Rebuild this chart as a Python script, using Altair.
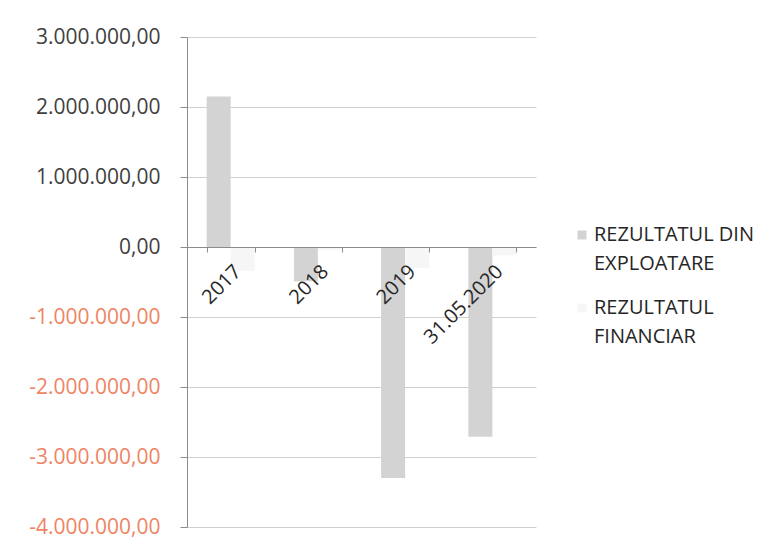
import altair as alt
import pandas as pd

categories = ["2017", "2018", "2019", "31.05.2020"]
series_names = ["REZULTATUL DIN EXPLOATARE", "REZULTATUL FINANCIAR"]
legend_lines = [["REZULTATUL DIN", "EXPLOATARE"], ["REZULTATUL", "FINANCIAR"]]
exploatare = [2150000, -490000, -3300000, -2710000]
financiar = [-340000, -40000, -300000, -120000]
y_ticks = [-4000000, -3000000, -2000000, -1000000, 0, 1000000, 2000000, 3000000]
colors = ["#d3d3d3", "#f6f6f6"]

rows = []
for c, a, b in zip(categories, exploatare, financiar):
    rows.append({"cat": c, "series": series_names[0], "value": a})
    rows.append({"cat": c, "series": series_names[1], "value": b})
df = pd.DataFrame(rows)

leg_df = pd.DataFrame({"series": series_names, "lines": legend_lines, "idx": [0, 1]})

FONT = "Open Sans"
fmt = ("replace(replace(replace(replace(replace(format(datum.value, ',.2f'), '.', '#'), ',', '.'), ',', '.'), '#', ','), '\u2212', '-')")

W, H = 349, 490
zero_off = -int(round(H * 4 / 7))
color_scale = alt.Scale(domain=series_names, range=colors)

bars = alt.Chart(df).mark_bar().encode(
    x=alt.X("cat:N", sort=categories, title=None,
            scale=alt.Scale(paddingInner=0.45, paddingOuter=0.225),
            axis=alt.Axis(offset=zero_off, labelAngle=-45, labelFont=FONT, labelFontSize=20,
                          labelColor="#262626", domainColor="#8c8c8c", domainWidth=1.2,
                          tickBand="extent", tickSize=5, tickColor="#8c8c8c",
                          labelPadding=9, zindex=1, grid=False)),
    xOffset=alt.XOffset("series:N", sort=series_names),
    y=alt.Y("value:Q", title=None,
            scale=alt.Scale(domain=[-4000000, 3000000], nice=False, zero=False),
            axis=alt.Axis(values=y_ticks, labelExpr=fmt, labelFont=FONT, labelFontSize=21,
                          labelColor={"condition": {"test": "datum.value < 0", "value": "#EE8464"}, "value": "#404040"},
                          domainColor="#8c8c8c", tickColor="#8c8c8c", tickSize=7, labelPadding=20,
                          gridColor="#cfcfcf", grid=True)),
    color=alt.Color("series:N", scale=color_scale, legend=None),
)

leg_base = alt.Chart(leg_df).transform_calculate(ypx="198 + datum.idx * 73")

leg_sym = leg_base.mark_square(size=80, opacity=1).encode(
    x=alt.value(395),
    y=alt.Y("ypx:Q", scale=None),
    color=alt.Color("series:N", scale=color_scale, legend=None),
)

leg_txt = leg_base.mark_text(align="left", baseline="middle", font=FONT, fontSize=20,
                             color="#262626", lineHeight=29).encode(
    x=alt.value(407),
    y=alt.Y("ypx:Q", scale=None),
    text="lines",
)

chart = alt.layer(bars, leg_sym, leg_txt).properties(
    width=W, height=H,
    autosize=alt.AutoSizeParams(type="none"),
    padding={"left": 179, "top": 29, "right": 230, "bottom": 20},
    background="white",
).configure_view(stroke=None)

chart.save("out.html", embed_options={"renderer": "svg", "actions": False})
